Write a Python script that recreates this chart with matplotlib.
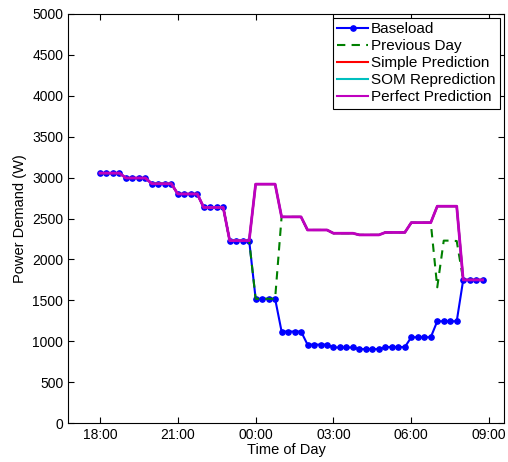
import numpy as np
import matplotlib
matplotlib.use("Agg")
import matplotlib.pyplot as plt

plt.rcParams["font.family"] = ["Liberation Sans", "DejaVu Sans"]

# quarter-hour samples from 18:00 to 08:45 (hours counted from midnight of day 1)
times = [18 + 0.25 * i for i in range(60)]

baseload = [
    3055, 3055, 3055, 3055,  # 18
    2995, 2995, 2995, 2995,  # 19
    2925, 2925, 2925, 2925,  # 20
    2800, 2800, 2800, 2800,  # 21
    2635, 2635, 2635, 2635,  # 22
    2230, 2230, 2230, 2230,  # 23
    1520, 1520, 1520, 1520,  # 00
    1120, 1120, 1120, 1120,  # 01
    960, 960, 960, 960,      # 02
    925, 925, 925, 925,      # 03
    905, 905, 905, 905,      # 04
    930, 930, 930, 930,      # 05
    1050, 1050, 1050, 1050,  # 06
    1245, 1245, 1245, 1245,  # 07
    1750, 1750, 1750, 1750,  # 08
]

previous_day = [
    3055, 3055, 3055, 3055,
    2995, 2995, 2995, 2995,
    2925, 2925, 2925, 2925,
    2800, 2800, 2800, 2800,
    2635, 2635, 2635, 2635,
    2230, 2230, 2230, 2230,
    1520, 1520, 1520, 1520,
    2520, 2520, 2520, 2520,
    2360, 2360, 2360, 2360,
    2320, 2320, 2320, 2320,
    2300, 2300, 2300, 2300,
    2330, 2330, 2330, 2330,
    2450, 2450, 2450, 2450,
    1660, 2230, 2230, 2225,
    1750, 1750, 1750, 1750,
]

perfect = [
    3055, 3055, 3055, 3055,
    2995, 2995, 2995, 2995,
    2925, 2925, 2925, 2925,
    2800, 2800, 2800, 2800,
    2635, 2635, 2635, 2635,
    2230, 2230, 2230, 2230,
    2920, 2920, 2920, 2920,
    2520, 2520, 2520, 2520,
    2360, 2360, 2360, 2360,
    2320, 2320, 2320, 2320,
    2300, 2300, 2300, 2300,
    2330, 2330, 2330, 2330,
    2450, 2450, 2450, 2450,
    2650, 2650, 2650, 2650,
    1750, 1750, 1750, 1750,
]
simple_pred = perfect
som_repred = perfect

tick_hours = [18, 21, 24, 27, 30, 33]
tick_labels = ["18:00", "21:00", "00:00", "03:00", "06:00", "09:00"]

fig = plt.figure(figsize=(5.08, 4.62), dpi=100)
ax = fig.add_axes([0.134, 0.084, 0.858, 0.886])

ax.plot(times, baseload, color="#0000ff", lw=1.5, marker="o", ms=3.8,
        label="Baseload")
ax.plot(times, previous_day, color="#008000", lw=1.5, ls=(0, (4, 3)),
        label="Previous Day")
ax.plot(times, simple_pred, color="#ff0000", lw=1.5, label="Simple Prediction")
ax.plot(times, som_repred, color="#00bfbf", lw=1.5, label="SOM Reprediction")
ax.plot(times, perfect, color="#bf00bf", lw=2, label="Perfect Prediction")

ax.set_xlim(16.77, 33.57)
ax.set_ylim(0, 5000)
ax.set_xticks(tick_hours)
ax.set_xticklabels(tick_labels)
ax.set_yticks(np.arange(0, 5001, 500))
ax.tick_params(direction="in", top=True, right=True, length=4, labelsize=10)
ax.set_xlabel("Time of Day", fontsize=10.5, labelpad=1)
ax.set_ylabel("Power Demand (W)", fontsize=10.5)

leg = ax.legend(loc="upper right", fontsize=11, numpoints=1, handlelength=2.0,
                handletextpad=0.2, labelspacing=0.2, borderpad=0.3,
                borderaxespad=0.25, fancybox=False, framealpha=1)
leg.get_frame().set_edgecolor("black")
leg.get_frame().set_linewidth(0.8)
for h in leg.get_lines():
    h.set_linewidth(1.5)

fig.savefig("out.png", dpi=100)
